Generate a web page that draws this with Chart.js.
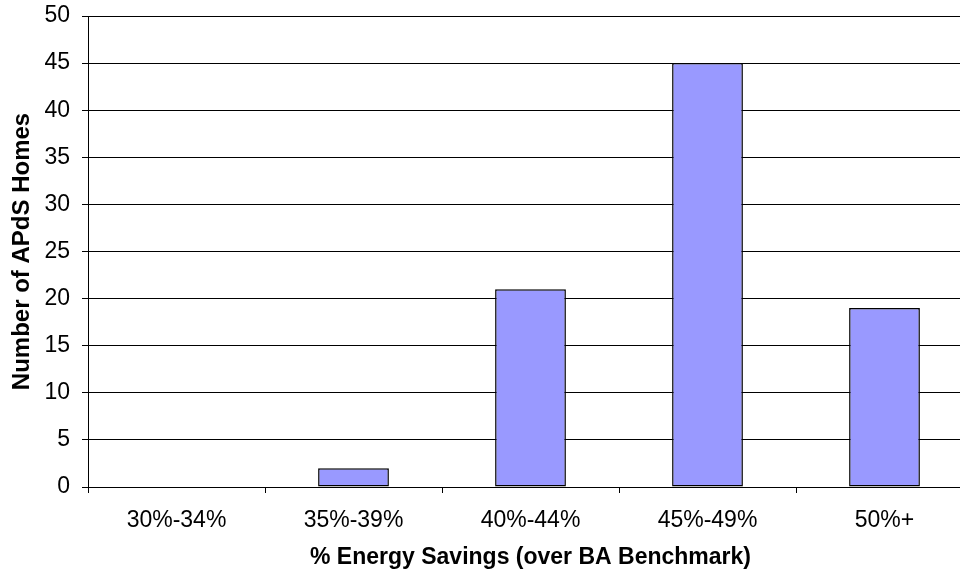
<!DOCTYPE html>
<html>
<head>
<meta charset="utf-8">
<script src="https://cdn.jsdelivr.net/npm/chart.js@4/dist/chart.umd.min.js"></script>
<style>
  html, body { margin: 0; padding: 0; background: #fff; overflow: hidden; }
  #wrap { width: 980px; height: 573px; }
</style>
</head>
<body>
<div id="wrap"><canvas id="c" width="980" height="573"></canvas></div>
<script>
// Savings bands and number of homes in each band
const categories = ['30%-34%', '35%-39%', '40%-44%', '45%-49%', '50%+'];
const homes = [0, 2, 21, 45, 19];
const yTicks = [0, 5, 10, 15, 20, 25, 30, 35, 40, 45, 50];

const fam = "'Liberation Sans', Arial, sans-serif";
const tickFont = { family: fam, size: 23 };

new Chart(document.getElementById('c'), {
  type: 'bar',
  data: {
    labels: categories,
    datasets: [{
      data: homes,
      backgroundColor: '#9999FF',
      borderColor: '#000000',
      borderWidth: 1.5,
      borderSkipped: false,
      barPercentage: 0.4,
      categoryPercentage: 1.0
    }]
  },
  options: {
    responsive: false,
    animation: false,
    devicePixelRatio: 1,
    layout: { padding: { top: 16, right: 7, left: 0, bottom: 0 } },
    plugins: { legend: { display: false }, tooltip: { enabled: false } },
    scales: {
      x: {
        offset: true,
        grid: {
          offset: true,
          drawOnChartArea: false,
          drawTicks: true,
          tickLength: 6,
          color: '#000'
        },
        border: { display: true, color: '#000', width: 1 },
        ticks: { color: '#000', font: tickFont, padding: 14, maxRotation: 0 },
        title: {
          display: true,
          text: '% Energy Savings (over BA Benchmark)',
          color: '#000',
          font: { family: fam, size: 23, weight: 'bold' },
          padding: { top: 0, bottom: 2 }
        },
        afterFit: (s) => { s.height = 86; }
      },
      y: {
        min: 0,
        max: 50,
        afterBuildTicks: (s) => { s.ticks = yTicks.map(v => ({ value: v })); },
        grid: { color: '#000', lineWidth: 1, drawTicks: true, tickLength: 6 },
        border: { display: true, color: '#000', width: 1 },
        ticks: { color: '#000', font: tickFont, padding: 12 },
        title: {
          display: true,
          text: 'Number of APdS Homes',
          color: '#000',
          font: { family: fam, size: 24, weight: 'bold' },
          padding: { top: 8, bottom: 0 }
        },
        afterFit: (s) => {
          s.width = 88;
          // the top label only needs room for half its height, handled by layout padding
          s.paddingTop = 0;
        }
      }
    }
  }
});
</script>
</body>
</html>
